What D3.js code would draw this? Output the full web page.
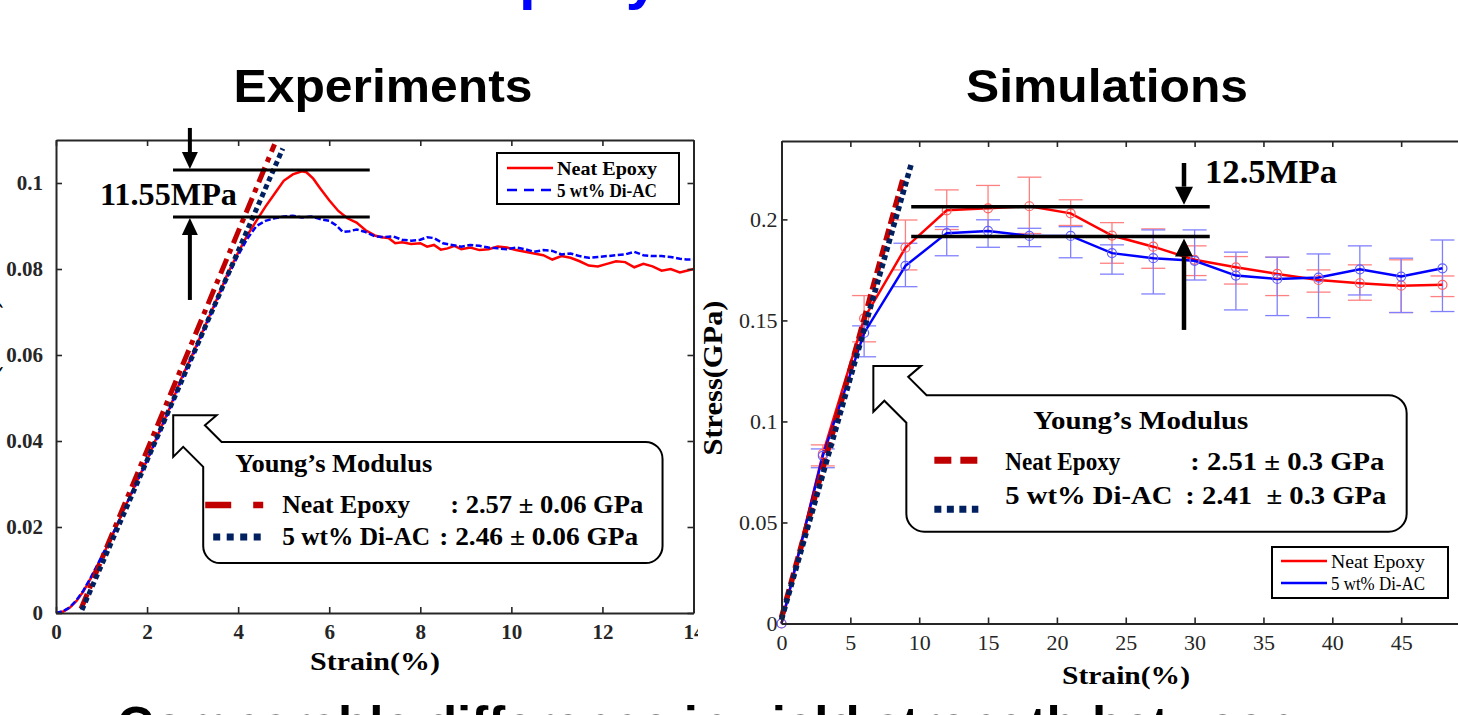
<!DOCTYPE html>
<html><head><meta charset="utf-8">
<script src="https://cdn.jsdelivr.net/npm/d3@7"></script>
<style>body{margin:0;background:#fff;} svg{display:block;}</style>
</head><body>
<svg id="c" width="1458" height="715"></svg>
<script>
// ---------------- DATA ----------------
// Experiments (strain %, stress GPa)
const expNeatStrain = [0,0.15,0.3,0.45,0.6,0.75,0.9,1.1,1.3,1.5,1.75,2.0,2.25,2.5,2.75,3.0,3.25,3.5,3.75,4.0,4.2,4.4,4.6,4.8,5.0,5.2,5.4,5.5,5.65,5.8,6.0,6.2,6.4,6.6,6.8,7.0,7.15,7.3,7.45,7.6,7.8,8.0,8.15,8.3,8.45,8.6,8.75,8.9,9.1,9.3,9.5,9.7,9.9,10.1,10.3,10.5,10.7,10.9,11.1,11.3,11.5,11.7,11.9,12.1,12.3,12.5,12.7,12.9,13.1,13.3,13.5,13.7,13.85,14.0];
const expNeatStress = [0,0.0003,0.0012,0.0028,0.005,0.0078,0.0108,0.015,0.0196,0.0243,0.0300,0.0356,0.0418,0.0478,0.0545,0.0602,0.0662,0.0722,0.0785,0.0838,0.0878,0.0912,0.0945,0.0975,0.1005,0.1020,0.1027,0.1025,0.1010,0.0988,0.0960,0.0935,0.0918,0.0908,0.0890,0.0878,0.0874,0.0872,0.0860,0.0862,0.0858,0.0860,0.0852,0.0856,0.0845,0.0848,0.0854,0.0846,0.0850,0.0844,0.0846,0.0852,0.0850,0.0844,0.0840,0.0836,0.0832,0.0822,0.0830,0.0826,0.0818,0.0808,0.0806,0.0812,0.0818,0.0816,0.0804,0.0812,0.0806,0.0796,0.0800,0.0792,0.0796,0.0800];
const expDiacStrain = [0,0.15,0.3,0.45,0.6,0.75,0.9,1.1,1.3,1.5,1.75,2.0,2.25,2.5,2.75,3.0,3.25,3.5,3.75,4.0,4.2,4.4,4.6,4.8,5.0,5.2,5.4,5.6,5.8,6.0,6.15,6.3,6.45,6.6,6.8,7.0,7.2,7.4,7.6,7.8,8.0,8.15,8.3,8.5,8.7,8.9,9.1,9.3,9.5,9.7,9.9,10.1,10.3,10.5,10.7,10.9,11.1,11.3,11.5,11.7,11.9,12.1,12.3,12.5,12.7,12.9,13.1,13.3,13.5,13.7,13.85,14.0];
const expDiacStress = [0,0.0004,0.0013,0.0030,0.0052,0.0080,0.0110,0.0152,0.0195,0.0242,0.0298,0.0354,0.0414,0.0475,0.0540,0.0598,0.0658,0.0718,0.0778,0.0832,0.0870,0.0900,0.0912,0.0918,0.0922,0.0924,0.0920,0.0922,0.0916,0.0912,0.0902,0.0886,0.0888,0.0892,0.0886,0.0876,0.0874,0.0876,0.0868,0.0866,0.0868,0.0874,0.0872,0.0860,0.0856,0.0852,0.0856,0.0854,0.0850,0.0848,0.0846,0.0850,0.0846,0.0840,0.0844,0.0842,0.0834,0.0836,0.0830,0.0826,0.0828,0.0830,0.0832,0.0834,0.0840,0.0832,0.0830,0.0830,0.0828,0.0824,0.0822,0.0822];
const expFitNeatStrain = [0.55, 4.8];
const expFitNeatStress = [0.001, 0.109];
const expFitDiacStrain = [0.57, 4.98];
const expFitDiacStress = [0.0007, 0.108];
const expXTicks = [0,2,4,6,8,10,12,14];
const expXTickLabels = ["0","2","4","6","8","10","12","14"];
const expYTicks = [0,0.02,0.04,0.06,0.08,0.1];
const expYTickLabels = ["0","0.02","0.04","0.06","0.08","0.1"];
const expYieldNeat = 0.103, expYieldDiac = 0.0921;

// Simulations
const simStrain = [0,3,6,9,12,15,18,21,24,27,30,33,36,39,42,45,48];
const simNeat   = [0,0.084,0.151,0.186,0.2045,0.2055,0.2065,0.203,0.192,0.1865,0.180,0.1763,0.173,0.170,0.1684,0.1672,0.1676];
const simNeatHi = [0,0.0884,0.1623,0.1997,0.2146,0.2168,0.2209,0.2097,0.1984,0.1953,0.1869,0.1816,0.1813,0.175,0.1775,0.180,0.172];
const simNeatLo = [0,0.078,0.1394,0.175,0.195,0.194,0.193,0.197,0.1783,0.1758,0.1722,0.168,0.1623,0.164,0.160,0.1539,0.1618];
const simDiac   = [0,0.083,0.1438,0.177,0.1932,0.1943,0.1918,0.1918,0.1833,0.1808,0.1795,0.1722,0.1705,0.1712,0.1753,0.1717,0.1758];
const simDiacHi = [0,0.0864,0.1473,0.1882,0.1964,0.1998,0.1956,0.1964,0.1874,0.1948,0.1948,0.1838,0.1813,0.1829,0.1869,0.1808,0.1898];
const simDiacLo = [0,0.0771,0.132,0.1667,0.182,0.1862,0.1865,0.181,0.1729,0.1631,0.170,0.1552,0.1524,0.1514,0.1626,0.1539,0.1544];
const simFitNeatStrain = [0, 8.9];
const simFitNeatStress = [0.003, 0.222];
const simFitDiacStrain = [0, 9.45];
const simFitDiacStress = [0.002, 0.228];
const simXTicks = [0,5,10,15,20,25,30,35,40,45];
const simXTickLabels = ["0","5","10","15","20","25","30","35","40","45"];
const simYTicks = [0,0.05,0.1,0.15,0.2];
const simYTickLabels = ["0","0.05","0.1","0.15","0.2"];
const simYieldNeat = 0.2063, simYieldDiac = 0.1915;

const seriesNames = ["Neat Epoxy", "5 wt% Di-AC"];

// ---------------- DRAW ----------------
const svg = d3.select("#c");
const serif = "'Liberation Serif','Times New Roman',Times,serif";
const sans = "'Liberation Sans',Arial,Helvetica,sans-serif";
const zip = (a,b) => a.map((v,i)=>[v,b[i]]);

function T(g, str, x, y, o) {
  o = o || {};
  const t = g.append("text").attr("x", x).attr("y", y)
    .attr("font-family", o.family || serif)
    .attr("font-size", o.size || 20)
    .attr("font-weight", o.weight || "bold")
    .attr("fill", o.fill || "#000")
    .attr("text-anchor", o.anchor || "start")
    .style("white-space", "pre")
    .text(str);
  if (o.len) t.attr("textLength", o.len).attr("lengthAdjust", "spacingAndGlyphs");
  if (o.rotate) t.attr("transform", `rotate(${o.rotate},${x},${y})`);
  return t;
}

function arrow(g, x, yTail, yTip, hw, hl, sw) {
  const dir = yTip > yTail ? 1 : -1;
  g.append("line").attr("x1", x).attr("x2", x).attr("y1", yTail).attr("y2", yTip - dir*hl)
    .attr("stroke", "#000").attr("stroke-width", sw);
  g.append("path").attr("d", `M${x-hw},${yTip-dir*hl}L${x+hw},${yTip-dir*hl}L${x},${yTip}Z`).attr("fill", "#000");
}

function callout(g, tipX, tipY, right, bottom, s, r) {
  const p = d3.path();
  const bl = tipX + 30*s, bt = tipY + 26.7*s;
  p.moveTo(tipX + 43.4*s, tipY);
  p.lineTo(tipX, tipY);
  p.lineTo(tipX, tipY + 41.7*s);
  p.lineTo(tipX + 10*s, tipY + 31.7*s);
  p.lineTo(bl, tipY + 51.7*s);
  p.lineTo(bl, bottom - r);
  p.arcTo(bl, bottom, bl + r, bottom, r);
  p.lineTo(right - r, bottom);
  p.arcTo(right, bottom, right, bottom - r, r);
  p.lineTo(right, bt + r);
  p.arcTo(right, bt, right - r, bt, r);
  p.lineTo(tipX + 48.4*s, bt);
  p.lineTo(tipX + 31.7*s, tipY + 10*s);
  p.closePath();
  g.append("path").attr("d", p.toString()).attr("fill", "#fff").attr("stroke", "#000").attr("stroke-width", 2);
  return {left: bl, top: bt};
}

function styleAxis(sel, fs, weight) {
  sel.select(".domain").attr("stroke", "#262626").attr("stroke-width", 2);
  sel.selectAll(".tick line").attr("stroke", "#262626").attr("stroke-width", 1.6);
  sel.selectAll(".tick text").attr("font-family", serif).attr("font-size", fs)
    .attr("font-weight", weight).attr("fill", "#262626");
}

svg.append("defs").append("clipPath").attr("id", "clipL")
  .append("rect").attr("x", 0).attr("y", 0).attr("width", 698).attr("height", 715);

// Top cut-off blue title and bottom cut-off text (only their edges show in the frame)
T(svg, "Epoxy", 479, -2, {family: sans, size: 60, fill: "#0000ff"});
T(svg, "Comparable difference in yield strength between", 117, 743, {family: sans, size: 51});

// Titles
T(svg, "Experiments", 383, 102, {family: sans, size: 47, anchor: "middle", len: 299});
T(svg, "Simulations", 1107, 102, {family: sans, size: 47, anchor: "middle", len: 282});

// ========== LEFT: Experiments ==========
const gL = svg.append("g").attr("clip-path", "url(#clipL)");
const xL = d3.scaleLinear().domain([0, 14]).range([56, 693.5]);
const yL = d3.scaleLinear().domain([0, 0.11]).range([613, 140]);

const lineL = d3.line().x(d => xL(d[0])).y(d => yL(d[1]));

gL.append("path").attr("d", lineL(zip(expNeatStrain, expNeatStress)))
  .attr("fill", "none").attr("stroke", "#ff0000").attr("stroke-width", 2.5);
gL.append("path").attr("d", lineL(zip(expDiacStrain, expDiacStress)))
  .attr("fill", "none").attr("stroke", "#0000ff").attr("stroke-width", 2.5).attr("stroke-dasharray", "6,2.5");
gL.append("path").attr("d", lineL(zip(expFitNeatStrain, expFitNeatStress)))
  .attr("fill", "none").attr("stroke", "#c00000").attr("stroke-width", 5).attr("stroke-dasharray", "16,6,5,6");
gL.append("path").attr("d", lineL(zip(expFitDiacStrain, expFitDiacStress)))
  .attr("fill", "none").attr("stroke", "#002060").attr("stroke-width", 5).attr("stroke-dasharray", "5,3.5");

// axes
const axB = gL.append("g").attr("transform", `translate(0,${yL(0)})`)
  .call(d3.axisBottom(xL).tickValues(expXTicks).tickSizeInner(-6).tickSizeOuter(0).tickPadding(11)
    .tickFormat((d,i) => expXTickLabels[i]));
styleAxis(axB, 21, "bold");
const axT = gL.append("g").attr("transform", `translate(0,${yL(0.11)})`)
  .call(d3.axisTop(xL).tickValues(expXTicks).tickSizeInner(-6).tickSizeOuter(0).tickFormat(""));
styleAxis(axT, 21, "bold");
const axLf = gL.append("g").attr("transform", `translate(${xL(0)},0)`)
  .call(d3.axisLeft(yL).tickValues(expYTicks).tickSizeInner(-6).tickSizeOuter(0).tickPadding(13)
    .tickFormat((d,i) => expYTickLabels[i]));
styleAxis(axLf, 21, "bold");
const axR = gL.append("g").attr("transform", `translate(${xL(14)},0)`)
  .call(d3.axisRight(yL).tickValues(expYTicks).tickSizeInner(-6).tickSizeOuter(0).tickFormat(""));
styleAxis(axR, 21, "bold");

T(gL, "Strain(%)", 375, 670, {size: 26, anchor: "middle", len: 130});
T(gL, "Stress(GPa)", -3, 376, {size: 27, anchor: "middle", rotate: -90, len: 155});

// yield annotation
[expYieldNeat, expYieldDiac].forEach(v => {
  gL.append("line").attr("x1", xL(2.57)).attr("x2", xL(6.89)).attr("y1", yL(v)).attr("y2", yL(v))
    .attr("stroke", "#000").attr("stroke-width", 3);
});
arrow(gL, xL(2.94), yL(0.1128), yL(expYieldNeat) - 1, 8, 17, 4);
arrow(gL, xL(2.94), yL(0.0728), yL(expYieldDiac) + 1, 8, 17, 4);
T(gL, "11.55MPa", 100, 205, {size: 31, len: 137});

// legend (experiments)
const lgL = gL.append("g");
lgL.append("rect").attr("x", 497).attr("y", 153).attr("width", 182).attr("height", 51)
  .attr("fill", "#fff").attr("stroke", "#000").attr("stroke-width", 2);
lgL.append("line").attr("x1", 507).attr("x2", 553).attr("y1", 168).attr("y2", 168)
  .attr("stroke", "#ff0000").attr("stroke-width", 2.5);
lgL.append("line").attr("x1", 507).attr("x2", 553).attr("y1", 190).attr("y2", 190)
  .attr("stroke", "#0000ff").attr("stroke-width", 2.5).attr("stroke-dasharray", "10,7");
T(lgL, seriesNames[0], 557, 175, {size: 19, len: 100});
T(lgL, seriesNames[1], 557, 197, {size: 19, len: 100});

// callout (experiments)
const cL = callout(gL, xL(2.574), yL(0.046), xL(13.32), yL(0.0116), 1, 17);
T(gL, "Young’s Modulus", cL.left + 32, cL.top + 30, {size: 25, len: 197});
gL.append("line").attr("x1", cL.left + 2).attr("x2", cL.left + 60).attr("y1", cL.top + 63).attr("y2", cL.top + 63)
  .attr("stroke", "#c00000").attr("stroke-width", 6.5).attr("stroke-dasharray", "26,22,10");
gL.append("line").attr("x1", cL.left + 10).attr("x2", cL.left + 63).attr("y1", cL.top + 95).attr("y2", cL.top + 95)
  .attr("stroke", "#002060").attr("stroke-width", 7).attr("stroke-dasharray", "7,6.5");
T(gL, seriesNames[0], cL.left + 79, cL.top + 71, {size: 25, len: 128});
T(gL, ": 2.57 ± 0.06 GPa", cL.left + 247, cL.top + 71, {size: 25, len: 193});
T(gL, seriesNames[1], cL.left + 79, cL.top + 103, {size: 25, len: 148});
T(gL, ": 2.46 ± 0.06 GPa", cL.left + 236, cL.top + 103, {size: 25, len: 199});

// ========== RIGHT: Simulations ==========
const gR = svg.append("g");
const xR = d3.scaleLinear().domain([0, 50]).range([781.5, 781.5 + 50*13.77]);
const yR = d3.scaleLinear().domain([0, 0.2388]).range([623.5, 141]);
const lineR = d3.line().x(d => xR(d[0])).y(d => yR(d[1]));

function errBars(hi, lo, col) {
  simStrain.forEach((s, i) => {
    if (hi[i] === lo[i]) return;
    const x = xR(s);
    gR.append("line").attr("x1", x).attr("x2", x).attr("y1", yR(hi[i])).attr("y2", yR(lo[i]))
      .attr("stroke", col).attr("stroke-width", 1.3);
    [hi[i], lo[i]].forEach(v => gR.append("line").attr("x1", x - 12).attr("x2", x + 12)
      .attr("y1", yR(v)).attr("y2", yR(v)).attr("stroke", col).attr("stroke-width", 1.3));
  });
}
errBars(simNeatHi, simNeatLo, "#ff8080");
errBars(simDiacHi, simDiacLo, "#8080ff");

gR.append("path").attr("d", lineR(zip(simStrain, simNeat)))
  .attr("fill", "none").attr("stroke", "#ff0000").attr("stroke-width", 2.5);
gR.append("path").attr("d", lineR(zip(simStrain, simDiac)))
  .attr("fill", "none").attr("stroke", "#0000ff").attr("stroke-width", 2.5);
simStrain.forEach((s, i) => {
  gR.append("circle").attr("cx", xR(s)).attr("cy", yR(simNeat[i])).attr("r", 4.5)
    .attr("fill", "none").attr("stroke", "#ff6060").attr("stroke-width", 1.2);
  gR.append("circle").attr("cx", xR(s)).attr("cy", yR(simDiac[i])).attr("r", 4.5)
    .attr("fill", "none").attr("stroke", "#6060ff").attr("stroke-width", 1.2);
});
gR.append("path").attr("d", lineR(zip(simFitNeatStrain, simFitNeatStress)))
  .attr("fill", "none").attr("stroke", "#c00000").attr("stroke-width", 5.5).attr("stroke-dasharray", "12,5");
gR.append("path").attr("d", lineR(zip(simFitDiacStrain, simFitDiacStress)))
  .attr("fill", "none").attr("stroke", "#002060").attr("stroke-width", 5.5).attr("stroke-dasharray", "5,3.5");

const rB = gR.append("g").attr("transform", `translate(0,${yR(0)})`)
  .call(d3.axisBottom(xR).tickValues(simXTicks).tickSizeInner(-6).tickSizeOuter(0).tickPadding(11)
    .tickFormat((d,i) => simXTickLabels[i]));
styleAxis(rB, 22, "normal");
const rT = gR.append("g").attr("transform", `translate(0,${yR(0.2388)})`)
  .call(d3.axisTop(xR).tickValues(simXTicks).tickSizeInner(-6).tickSizeOuter(0).tickFormat(""));
styleAxis(rT, 22, "normal");
const rL = gR.append("g").attr("transform", `translate(${xR(0)},0)`)
  .call(d3.axisLeft(yR).tickValues(simYTicks).tickSizeInner(-6).tickSizeOuter(0).tickPadding(4)
    .tickFormat((d,i) => simYTickLabels[i]));
styleAxis(rL, 22, "normal");

T(gR, "Strain(%)", 1126, 684, {size: 26, anchor: "middle", len: 128});
T(gR, "Stress(GPa)", 722, 378, {size: 27, anchor: "middle", rotate: -90, len: 155});

[simYieldNeat, simYieldDiac].forEach(v => {
  gR.append("line").attr("x1", xR(9.42)).attr("x2", xR(31.1)).attr("y1", yR(v)).attr("y2", yR(v))
    .attr("stroke", "#000").attr("stroke-width", 3.5);
});
arrow(gR, xR(29.23), yR(0.2279), yR(simYieldNeat) - 2, 9, 18, 4.5);
arrow(gR, xR(29.23), yR(0.1453), yR(simYieldDiac) + 2, 9, 18, 4.5);
T(gR, "12.5MPa", 1205, 183, {size: 34, len: 132});

// callout (simulations)
const cR = callout(gR, xR(6.67), yR(0.1275), xR(45.4), yR(0.04545), 1.1, 18);
T(gR, "Young’s Modulus", cR.left + 127, cR.top + 34, {size: 26, len: 215});
gR.append("line").attr("x1", cR.left + 28).attr("x2", cR.left + 72).attr("y1", cR.top + 65).attr("y2", cR.top + 65)
  .attr("stroke", "#c00000").attr("stroke-width", 7).attr("stroke-dasharray", "17,9");
gR.append("line").attr("x1", cR.left + 28).attr("x2", cR.left + 72).attr("y1", cR.top + 114).attr("y2", cR.top + 114)
  .attr("stroke", "#002060").attr("stroke-width", 7).attr("stroke-dasharray", "7,5.5");
T(gR, seriesNames[0], cR.left + 99, cR.top + 75, {size: 26, len: 115});
T(gR, ": 2.51 ± 0.3 GPa", cR.left + 284, cR.top + 75, {size: 26, len: 194});
T(gR, seriesNames[1], cR.left + 99, cR.top + 109, {size: 26, len: 167});
T(gR, ": 2.41  ± 0.3 GPa", cR.left + 279, cR.top + 109, {size: 26, len: 201});

// legend (simulations)
const lgR = gR.append("g");
lgR.append("rect").attr("x", 1272).attr("y", 547).attr("width", 176).attr("height", 51)
  .attr("fill", "#fff").attr("stroke", "#000").attr("stroke-width", 2);
lgR.append("line").attr("x1", 1281).attr("x2", 1327).attr("y1", 561).attr("y2", 561)
  .attr("stroke", "#ff0000").attr("stroke-width", 2.5);
lgR.append("line").attr("x1", 1281).attr("x2", 1327).attr("y1", 583).attr("y2", 583)
  .attr("stroke", "#0000ff").attr("stroke-width", 2.5);
T(lgR, seriesNames[0], 1331, 568, {size: 19.5, weight: "normal", len: 94});
T(lgR, seriesNames[1], 1331, 590, {size: 19.5, weight: "normal", len: 94});
</script>
</body></html>
